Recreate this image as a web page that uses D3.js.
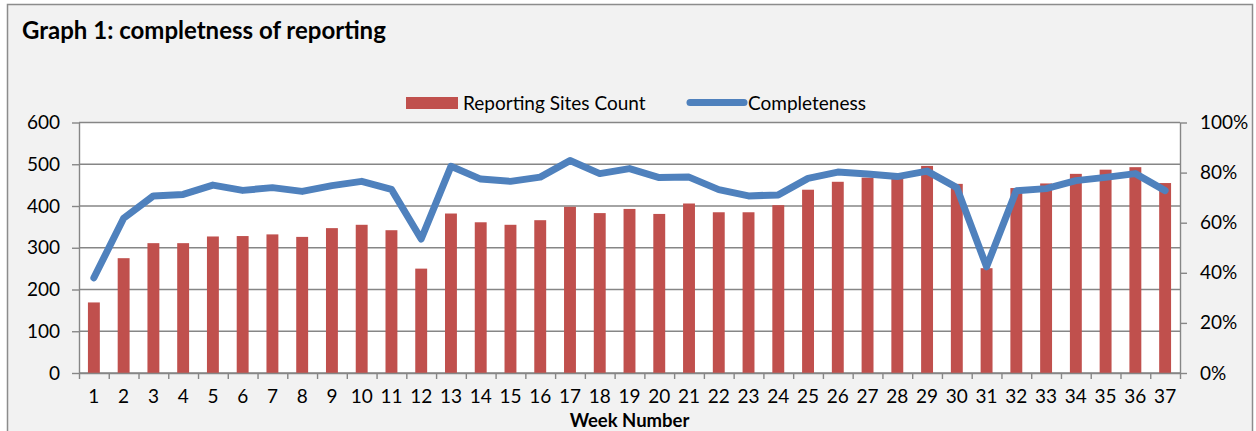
<!DOCTYPE html>
<html>
<head>
<meta charset="utf-8">
<script src="https://cdn.jsdelivr.net/npm/d3@7"></script>
<style>
  html, body { margin: 0; padding: 0; background: #fff; }
  svg { display: block; font-family: Lato, "Open Sans", sans-serif; }
</style>
</head>
<body>
<div id="chart"></div>
<script>
// week numbers 1..37
var weeks = ["1","2","3","4","5","6","7","8","9","10","11","12","13","14","15","16","17","18","19",
             "20","21","22","23","24","25","26","27","28","29","30","31","32","33","34","35","36","37"];
// reporting sites per week
var sitesCount = [169, 275, 311, 311, 327, 328, 332, 326, 347, 355, 342, 250, 382,
                  361, 355, 366, 398, 383, 393, 381, 406, 385, 385, 402, 439, 458,
                  468, 467, 496, 453, 251, 443, 454, 477, 487, 493, 455];
// completeness (fraction) per week
var completeness = [0.380, 0.618, 0.707, 0.713, 0.750, 0.729, 0.740, 0.725, 0.748, 0.765,
                    0.733, 0.535, 0.825, 0.774, 0.765, 0.782, 0.848, 0.796, 0.816, 0.780,
                    0.782, 0.732, 0.707, 0.711, 0.777, 0.802, 0.794, 0.784, 0.806, 0.740,
                    0.424, 0.728, 0.736, 0.768, 0.781, 0.796, 0.728];
var leftTicks = [0, 100, 200, 300, 400, 500, 600];
var rightTicks = [0, 0.2, 0.4, 0.6, 0.8, 1.0];

var W = 1256, H = 431;
var plot = {left: 79, right: 1180, top: 122.5, bottom: 373};
var barColour = "#c0504d";
var lineColour = "#4f81bd";
var axisColour = "#868686";
var fontSize = "19px";

var svg = d3.select("#chart")
  .append("svg")
  .attr("width", W)
  .attr("height", H);

// chart frame
svg.append("rect")
  .attr("x", 7.5).attr("y", 4.5)
  .attr("width", 1245).attr("height", 440)
  .attr("fill", "#f2f2f2")
  .attr("stroke", "#8c8c8c")
  .attr("stroke-width", 1.5);

// plot area
svg.append("rect")
  .attr("x", plot.left).attr("y", plot.top)
  .attr("width", plot.right - plot.left).attr("height", plot.bottom - plot.top)
  .attr("fill", "#fff");

var x = d3.scaleBand()
  .domain(weeks)
  .range([plot.left, plot.right])
  .paddingInner(0.6)
  .paddingOuter(0.3);

var yLeft = d3.scaleLinear().domain([0, 600]).range([plot.bottom, plot.top]);
var yRight = d3.scaleLinear().domain([0, 1]).range([plot.bottom, plot.top]);

// gridlines
svg.append("g")
  .selectAll("line")
  .data(leftTicks)
  .enter().append("line")
  .attr("x1", plot.left).attr("x2", plot.right)
  .attr("y1", function(d) { return yLeft(d); })
  .attr("y2", function(d) { return yLeft(d); })
  .attr("stroke", axisColour)
  .attr("stroke-width", 1.4);

// bars
svg.append("g")
  .selectAll("rect")
  .data(sitesCount)
  .enter().append("rect")
  .attr("x", function(d, i) { return x(weeks[i]); })
  .attr("y", function(d) { return yLeft(d); })
  .attr("width", x.bandwidth())
  .attr("height", function(d) { return yLeft(0) - yLeft(d); })
  .attr("fill", barColour);

// completeness line
var line = d3.line()
  .x(function(d, i) { return x(weeks[i]) + x.bandwidth() / 2; })
  .y(function(d) { return yRight(d); });

svg.append("path")
  .datum(completeness)
  .attr("d", line)
  .attr("fill", "none")
  .attr("stroke", lineColour)
  .attr("stroke-width", 7)
  .attr("stroke-linejoin", "round")
  .attr("stroke-linecap", "round");

function styleAxis(g) {
  g.select(".domain").attr("stroke", axisColour).attr("stroke-width", 1.4);
  g.selectAll(".tick line").attr("stroke", axisColour).attr("stroke-width", 1.4);
  g.selectAll(".tick text").attr("fill", "#000").attr("font-size", fontSize)
    .attr("font-family", "Lato, 'Open Sans', sans-serif");
}

// left axis
svg.append("g")
  .attr("transform", "translate(" + plot.left + ",0)")
  .call(d3.axisLeft(yLeft).tickValues(leftTicks).tickSize(7).tickSizeOuter(0).tickPadding(12))
  .call(styleAxis);

// right axis
svg.append("g")
  .attr("transform", "translate(" + plot.right + ",0)")
  .call(d3.axisRight(yRight).tickValues(rightTicks).tickSize(7).tickSizeOuter(0)
        .tickPadding(13).tickFormat(d3.format(".0%")))
  .call(styleAxis);

// bottom axis: tick marks between weeks
var xEdges = d3.scaleLinear().domain([0, weeks.length]).range([plot.left, plot.right]);
svg.append("g")
  .attr("transform", "translate(0," + plot.bottom + ")")
  .call(d3.axisBottom(xEdges).tickValues(d3.range(weeks.length + 1)).tickSize(6)
        .tickSizeOuter(0).tickFormat(""))
  .call(styleAxis);

// bottom axis: week labels
svg.append("g")
  .attr("transform", "translate(0," + plot.bottom + ")")
  .call(d3.axisBottom(x).tickSize(0).tickPadding(17))
  .call(styleAxis)
  .call(function(g) { g.select(".domain").remove(); });

// title
svg.append("text")
  .attr("x", 22).attr("y", 39)
  .attr("font-size", "24px")
  .attr("font-weight", "bold")
  .text("Graph 1: completness of reporting");

// x axis title
svg.append("text")
  .attr("x", (plot.left + plot.right) / 2).attr("y", 426.5)
  .attr("text-anchor", "middle")
  .attr("font-size", "18.5px")
  .attr("font-weight", "bold")
  .text("Week Number");

// legend
var legend = svg.append("g").attr("font-size", fontSize);
legend.append("rect")
  .attr("x", 406).attr("y", 97).attr("width", 52).attr("height", 12)
  .attr("fill", barColour);
legend.append("text")
  .attr("x", 463).attr("y", 109.5)
  .text("Reporting Sites Count");
legend.append("line")
  .attr("x1", 690).attr("x2", 744).attr("y1", 102.5).attr("y2", 102.5)
  .attr("stroke", lineColour).attr("stroke-width", 7)
  .attr("stroke-linecap", "round");
legend.append("text")
  .attr("x", 748).attr("y", 109.5)
  .text("Completeness");
</script>
</body>
</html>
